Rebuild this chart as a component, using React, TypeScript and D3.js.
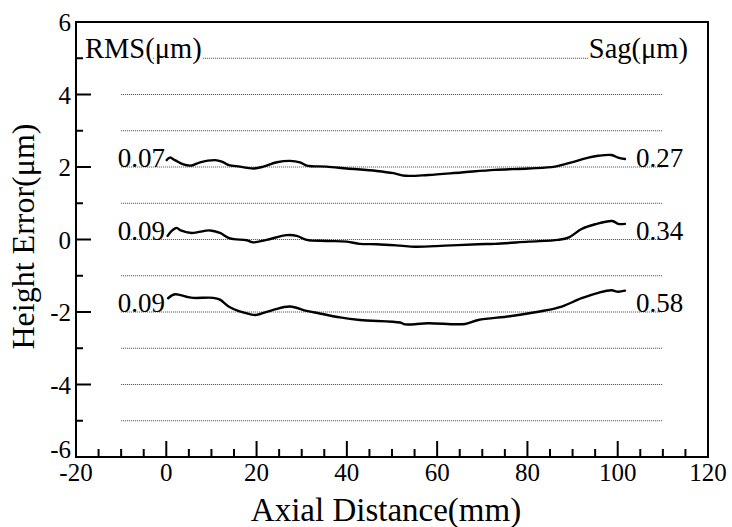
import React from "react";
import * as d3 from "d3";

const xTop = [0.1, 0.8, 1.9, 3.8, 5.6, 7.5, 10.8, 12.3, 13.7, 16.3, 19.3, 21.5, 24.5, 27.4, 29.6, 31.1, 35.5, 40, 46.6, 50.3, 52.9, 58, 65.4, 72.8, 80.2, 86.1, 89.8, 93.5, 95.7, 98.6, 100.1, 101.6];
const yTop = [2.19, 2.26, 2.19, 2.07, 2.04, 2.13, 2.19, 2.15, 2.06, 2.01, 1.96, 2.01, 2.13, 2.17, 2.13, 2.04, 2.01, 1.96, 1.89, 1.83, 1.76, 1.78, 1.85, 1.92, 1.96, 2.01, 2.13, 2.26, 2.31, 2.33, 2.26, 2.22];

const xMid = [0.3, 1.2, 2.3, 3.2, 5.6, 9.7, 11.9, 14.1, 17.8, 19.3, 22.2, 26.7, 28.9, 31.1, 35.5, 40, 42.9, 46.6, 51.8, 55.1, 61.7, 69.1, 72.8, 80.2, 86.8, 89.2, 92, 95, 98.8, 100.1, 101.6];
const yMid = [0.1, 0.24, 0.32, 0.25, 0.18, 0.25, 0.18, 0.03, -0.02, -0.08, -0.01, 0.12, 0.1, -0.01, -0.04, -0.06, -0.12, -0.13, -0.17, -0.2, -0.17, -0.13, -0.12, -0.06, -0.01, 0.06, 0.29, 0.42, 0.51, 0.43, 0.43];

const xBot = [0.4, 1.9, 4.5, 6, 10.4, 11.9, 14.1, 18.5, 20, 23.7, 27.4, 31.1, 34, 38.5, 42.9, 51.8, 52.9, 58, 66.2, 69.1, 76.5, 83.9, 87.6, 92, 95.7, 98.6, 100.1, 101.6];
const yBot = [-1.62, -1.51, -1.58, -1.61, -1.61, -1.66, -1.87, -2.06, -2.08, -1.94, -1.85, -1.97, -2.04, -2.15, -2.22, -2.29, -2.34, -2.31, -2.33, -2.22, -2.11, -1.96, -1.85, -1.62, -1.47, -1.4, -1.44, -1.41];

const rmsLabels = ["0.07", "0.09", "0.09"];
const sagLabels = ["0.27", "0.34", "0.58"];
const labelLevels = [2, 0, -2];

const xTicks = [-20, 0, 20, 40, 60, 80, 100, 120];
const yTicks = [-6, -4, -2, 0, 2, 4, 6];
const gridLevels = [-5, -4, -3, -2, -1, 0, 1, 2, 3, 4, 5];

const FONT = "'Liberation Serif', 'DejaVu Serif', serif";

export default function App() {
  const W = 732, H = 527;
  const L = 76, R = 708, T = 22, B = 457;
  const x = d3.scaleLinear().domain([-20, 120]).range([L, R]);
  const y = d3.scaleLinear().domain([-6, 6]).range([B, T]);
  const line = d3.line<[number, number]>().x(d => x(d[0])).y(d => y(d[1])).curve(d3.curveCatmullRom.alpha(0.5));
  const series = [
    xTop.map((v, i) => [v, yTop[i]] as [number, number]),
    xMid.map((v, i) => [v, yMid[i]] as [number, number]),
    xBot.map((v, i) => [v, yBot[i]] as [number, number]),
  ];
  const xMinor = d3.range(-15, 120, 5).filter(v => v % 20 !== 0);
  const yMinor = [-5, -3, -1, 1, 3, 5];
  const ts = { fontFamily: FONT };

  return (
    <svg width={W} height={H} style={{ position: "absolute", left: 0, top: 0, background: "#fff", fontFamily: FONT }}>
      <rect x={0} y={0} width={W} height={H} fill="#fff" />
      {gridLevels.map(g => (
        <line key={g} x1={x(-10)} x2={x(110)} y1={y(g)} y2={y(g)} stroke="#444" strokeWidth={1} strokeDasharray="1,1" />
      ))}
      {series.map((s, i) => (
        <path key={i} d={line(s) || ""} fill="none" stroke="#000" strokeWidth={2.4} strokeLinejoin="round" strokeLinecap="round" />
      ))}
      {/* frame */}
      <rect x={L} y={T} width={R - L} height={B - T} fill="none" stroke="#000" strokeWidth={2} />
      {/* y ticks */}
      {yTicks.filter(v => v > -6 && v < 6).map(v => (
        <line key={"ym" + v} x1={L} x2={L + 15} y1={y(v)} y2={y(v)} stroke="#000" strokeWidth={2} />
      ))}
      {yMinor.map(v => (
        <line key={"yn" + v} x1={L} x2={L + 7} y1={y(v)} y2={y(v)} stroke="#000" strokeWidth={2} />
      ))}
      {xTicks.filter(v => v > -20 && v < 120).map(v => (
        <line key={"xm" + v} x1={x(v)} x2={x(v)} y1={B} y2={B - 16} stroke="#000" strokeWidth={2} />
      ))}
      {xMinor.map(v => (
        <line key={"xn" + v} x1={x(v)} x2={x(v)} y1={B} y2={B - 8} stroke="#000" strokeWidth={2} />
      ))}
      {/* tick labels */}
      {yTicks.map(v => (
        <text key={"yl" + v} style={ts} x={L - 5} y={y(v) + (v === -6 ? 1 : 9)} textAnchor="end" fontSize={25} fill="#000">{v}</text>
      ))}
      {xTicks.map(v => (
        <text key={"xl" + v} style={ts} x={x(v)} y={B + 24} textAnchor="middle" fontSize={25} fill="#000">{v}</text>
      ))}
      {/* axis titles */}
      <text style={ts} x={386} y={521} textAnchor="middle" fontSize={33} fill="#000">Axial Distance(mm)</text>
      <text style={ts} transform={`translate(34,${(T + B) / 2 - 3}) rotate(-90)`} textAnchor="middle" fontSize={32} fill="#000">Height Error(μm)</text>
      {/* header labels */}
      <text style={ts} x={85} y={y(5)} fontSize={28.5} fill="#000" stroke="#fff" strokeWidth={5} paintOrder="stroke" strokeLinejoin="round">RMS(μm)</text>
      <text style={ts} x={688} y={y(5)} textAnchor="end" fontSize={28.5} fill="#000" stroke="#fff" strokeWidth={5} paintOrder="stroke" strokeLinejoin="round">Sag(μm)</text>
      {/* value labels */}
      {rmsLabels.map((t, i) => (
        <text key={"r" + i} style={ts} x={165} y={y(labelLevels[i])} textAnchor="end" fontSize={27} fill="#000">{t}</text>
      ))}
      {sagLabels.map((t, i) => (
        <text key={"s" + i} style={ts} x={636} y={y(labelLevels[i])} fontSize={27} fill="#000">{t}</text>
      ))}
    </svg>
  );
}
